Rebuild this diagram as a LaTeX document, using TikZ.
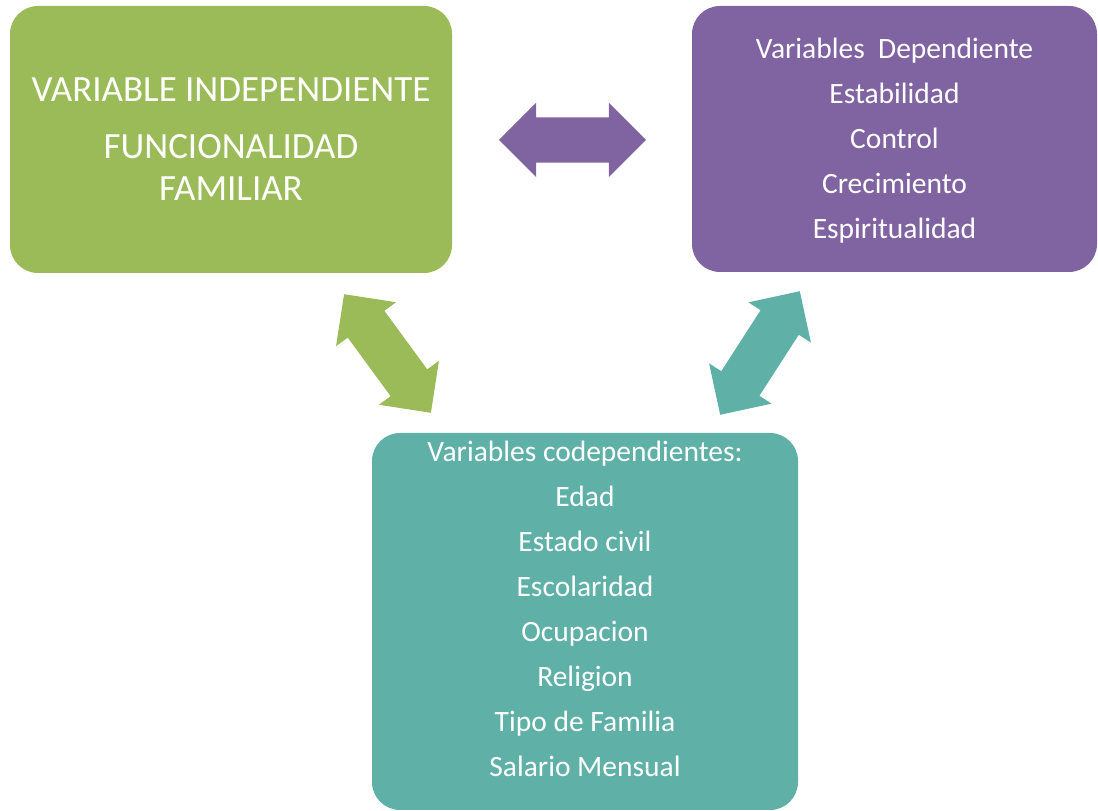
\documentclass[tikz,border=0pt]{standalone}
\usepackage{fontspec}
\setmainfont{Carlito}
\usetikzlibrary{shapes.arrows}
\definecolor{boxgreen}{RGB}{155,187,89}
\definecolor{boxpurple}{RGB}{128,100,162}
\definecolor{boxteal}{RGB}{95,176,167}

\begin{document}
\begin{tikzpicture}[x = 1pt, y = 1pt,
        varbox/.style = {rounded corners = 28pt, text = white, align = center, inner sep = 0pt},
        bigarrow/.style = {double arrow, minimum height = 147pt, inner xsep = 0pt, inner ysep = 22.5pt,
            double arrow head extend = 14.5pt}]
    \useasboundingbox (0,0) rectangle (1098,811);

    \node[varbox, fill = boxgreen, minimum width = 442pt, minimum height = 267pt,
        font = \fontsize{37}{42}\selectfont] (indep) at (231,671.5)
        {VARIABLE INDEPENDIENTE\\[15pt] FUNCIONALIDAD\\ FAMILIAR};
    \node[varbox, fill = boxpurple, minimum width = 405pt, minimum height = 266pt,
        text depth = 2pt, font = \fontsize{29.5}{45}\selectfont] (dep) at (894.5,672)
        {Variables~~Dependiente\\ Estabilidad\\ Control\\ Crecimiento\\ Espiritualidad};
    \node[varbox, fill = boxteal, minimum width = 426pt, minimum height = 377pt,
        text depth = 25pt, font = \fontsize{29.5}{45}\selectfont] (codep) at (585,189.5)
        {Variables codependientes:\\ Edad\\ Estado civil\\ Escolaridad\\ Ocupacion\\
         Religion\\ Tipo de Familia\\ Salario Mensual};

    \node[bigarrow, fill = boxpurple] (indepdep) at (572.5,671) {};
    \node[bigarrow, fill = boxgreen, rotate = 126.2] (indepcodep) at (387.5,457.5) {};
    \node[bigarrow, fill = boxteal, rotate = 57.2] (depcodep) at (760,458) {};
\end{tikzpicture}
\end{document}
